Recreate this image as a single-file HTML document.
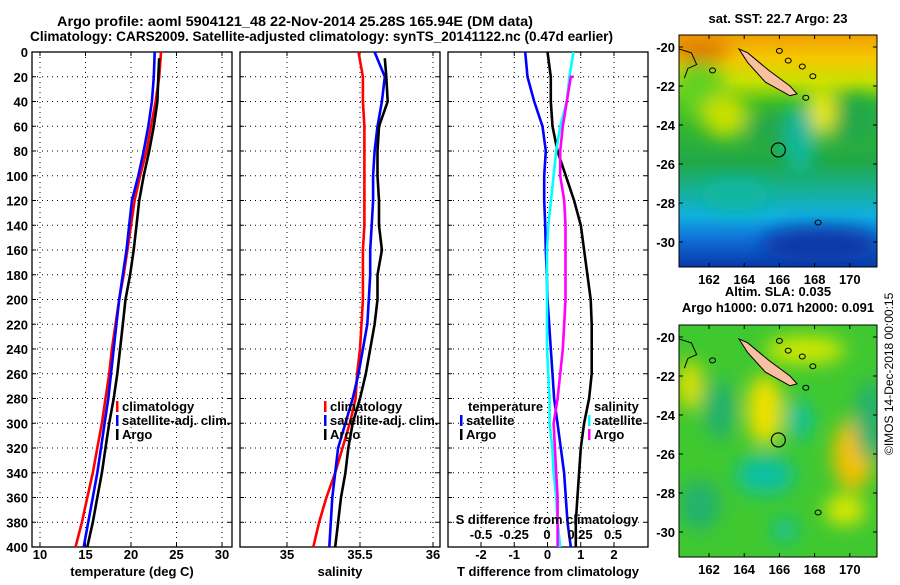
<!DOCTYPE html>
<html><head><meta charset="utf-8"><style>
body{margin:0;background:#fff;}
svg text{font-family:"Liberation Sans",sans-serif;font-weight:bold;font-size:13px;fill:#000;}
</style></head><body>
<svg id="fig" width="900" height="580" xmlns="http://www.w3.org/2000/svg">
<defs>
<filter id="bl" x="-50%" y="-50%" width="200%" height="200%"><feGaussianBlur stdDeviation="9"/></filter>
<clipPath id="c1"><rect x="679" y="35" width="198" height="232"/></clipPath>
<clipPath id="c2"><rect x="679" y="325" width="198" height="232"/></clipPath>
<linearGradient id="sst" x1="0" y1="0" x2="0" y2="1">
<stop offset="0" stop-color="#f0a000"/><stop offset="0.1" stop-color="#f5c800"/><stop offset="0.2" stop-color="#c8e000"/><stop offset="0.3" stop-color="#40c020"/><stop offset="0.55" stop-color="#20a848"/><stop offset="0.66" stop-color="#18b090"/><stop offset="0.78" stop-color="#10b0e0"/><stop offset="0.88" stop-color="#1070d8"/><stop offset="1" stop-color="#0838a8"/>
</linearGradient>
</defs>
<text x="57" y="26" textLength="476" lengthAdjust="spacingAndGlyphs" style="font-size:14px">Argo profile: aoml 5904121_48 22-Nov-2014 25.28S 165.94E (DM data)</text>
<text x="30" y="41" textLength="583" lengthAdjust="spacingAndGlyphs" style="font-size:14px">Climatology: CARS2009. Satellite-adjusted climatology: synTS_20141122.nc (0.47d earlier)</text>
<g id="panels"></g>
<g id="maps">
<g clip-path="url(#c1)">
<rect x="679" y="35" width="198" height="232" fill="url(#sst)"/>
<g filter="url(#bl)">
<ellipse cx="700" cy="90" rx="25" ry="30" fill="#60d020"/>
<ellipse cx="725" cy="115" rx="22" ry="22" fill="#c8e000"/>
<ellipse cx="780" cy="130" rx="35" ry="20" fill="#20a848"/>
<ellipse cx="855" cy="120" rx="30" ry="25" fill="#20a848"/>
<ellipse cx="822" cy="110" rx="14" ry="25" fill="#e8e800"/>
<ellipse cx="735" cy="195" rx="35" ry="15" fill="#10b8a0"/>
<ellipse cx="800" cy="140" rx="15" ry="35" fill="#10b8a0"/>
<ellipse cx="700" cy="50" rx="30" ry="12" fill="#e07800"/>
<ellipse cx="820" cy="245" rx="60" ry="18" fill="#0838a8"/>
</g>
</g>
<g clip-path="url(#c2)">
<rect x="679" y="325" width="198" height="232" fill="#40c830"/>
<g filter="url(#bl)">
<ellipse cx="765" cy="410" rx="18" ry="35" fill="#f0e000"/>
<ellipse cx="853" cy="455" rx="20" ry="35" fill="#f5c000"/>
<ellipse cx="805" cy="350" rx="40" ry="14" fill="#d0e800"/>
<ellipse cx="690" cy="385" rx="12" ry="25" fill="#e8e000"/>
<ellipse cx="765" cy="475" rx="30" ry="20" fill="#10c0a0"/>
<ellipse cx="800" cy="420" rx="12" ry="20" fill="#10c0a0"/>
<ellipse cx="720" cy="410" rx="15" ry="30" fill="#20b070"/>
<ellipse cx="870" cy="420" rx="15" ry="40" fill="#20b070"/>
<ellipse cx="785" cy="530" rx="12" ry="12" fill="#10c0a0"/>
<ellipse cx="700" cy="505" rx="20" ry="25" fill="#20b070"/>
<ellipse cx="845" cy="510" rx="20" ry="15" fill="#e0e800"/>
</g>
</g>
</g>
<text transform="translate(893,455) rotate(-90)" style="font-weight:normal;font-size:12px">©IMOS 14-Dec-2018 00:00:15</text>
</svg>
<script>
// ---- profile data (depth in m) ----
const depths = [0,20,40,60,80,100,120,140,160,180,200,220,240,260,280,300,320,340,360,380,400];
const tempClim = [23.3,23.1,22.7,22.2,21.7,21.0,20.4,20.0,19.6,19.2,18.7,18.3,17.9,17.6,17.2,16.8,16.3,15.8,15.2,14.6,13.9];
const tempSat = [22.6,22.5,22.3,21.9,21.4,20.8,20.1,19.8,19.5,19.1,18.7,18.4,18.1,17.8,17.5,17.1,16.7,16.3,15.8,15.3,14.8];
const tempArgo = [23.1,23.0,22.9,22.5,22.0,21.4,20.9,20.6,20.3,19.9,19.4,19.1,18.8,18.5,18.1,17.6,17.2,16.8,16.3,15.8,15.2];
const salClim = [35.49,35.52,35.52,35.53,35.53,35.53,35.53,35.53,35.52,35.52,35.52,35.51,35.50,35.48,35.47,35.43,35.38,35.33,35.27,35.22,35.18];
const salSat = [35.60,35.67,35.65,35.62,35.60,35.59,35.59,35.58,35.57,35.57,35.56,35.55,35.52,35.49,35.45,35.40,35.35,35.33,35.31,35.30,35.29];
const salArgo = [35.67,35.68,35.69,35.63,35.62,35.62,35.63,35.63,35.65,35.62,35.62,35.60,35.57,35.54,35.50,35.45,35.42,35.40,35.37,35.35,35.33];
const tDiffSat = [-0.67,-0.6,-0.4,-0.15,-0.05,-0.1,-0.1,-0.07,-0.05,-0.02,0.0,0.05,0.1,0.15,0.2,0.3,0.4,0.5,0.55,0.6,0.7];
const tDiffArgo = [0.0,0.1,0.1,0.15,0.3,0.55,0.8,1.0,1.1,1.2,1.3,1.33,1.33,1.33,1.25,1.1,1.0,0.95,0.9,0.85,0.85];
const sDiffSat = [0.2,0.17,0.15,0.1,0.07,0.05,0.03,0.01,0.0,0.0,0.0,0.0,0.0,0.01,0.02,0.02,0.04,0.05,0.07,0.08,0.1];
const sDiffArgo = [0.2,0.18,0.15,0.12,0.1,0.1,0.13,0.14,0.14,0.14,0.14,0.13,0.12,0.1,0.08,0.05,0.06,0.07,0.08,0.08,0.08];
const depthTicks = [0,20,40,60,80,100,120,140,160,180,200,220,240,260,280,300,320,340,360,380,400];
const tempTicks = [10,15,20,25,30];
const salTicks = [35,35.5,36];
const tdTicks = [-2,-1,0,1,2];
const sdTicks = [-0.5,-0.25,0,0.25,0.5];
const sdTickLabels = ['-0.5','-0.25','0','0.25','0.5'];
const latTicks = [-20,-22,-24,-26,-28,-30];
const lonTicks = [162,164,166,168,170];
const argoLon = 165.94, argoLat = -25.28;

const NS='http://www.w3.org/2000/svg';
const root=document.getElementById('panels');
function mk(tag,attrs,parent,text){const e=document.createElementNS(NS,tag);for(const k in attrs)e.setAttribute(k,attrs[k]);if(text!==undefined)e.textContent=text;(parent||root).appendChild(e);return e;}
const Y0=52,Y1=547;
function yD(d){return Y0+(d/400)*(Y1-Y0);}
function lin(d0,d1,r0,r1){return v=>r0+(v-d0)/(d1-d0)*(r1-r0);}

const panels=[
 {x0:32,x1:232,name:'temperature-panel',sc:lin(10,30,40,222),ticks:tempTicks,labels:tempTicks.map(String),xlabel:'temperature (deg C)'},
 {x0:240,x1:440,name:'salinity-panel',sc:lin(35,36,287,433),ticks:salTicks,labels:['35','35.5','36'],xlabel:'salinity'},
 {x0:448,x1:648,name:'difference-panel',sc:lin(-2,2,481,614),ticks:tdTicks,labels:tdTicks.map(String),xlabel:'T difference from climatology'}
];
panels.forEach((p,i)=>{
 const g=mk('g',{});
 
 
 mk('rect',{x:p.x0,y:Y0,width:p.x1-p.x0,height:Y1-Y0,fill:'#fff',stroke:'#000','stroke-width':1.3},g);
 depthTicks.forEach(d=>{
  const y=yD(d);
  if(d>0&&d<400){const l=mk('line',{x1:p.x0,x2:p.x1,y1:y,y2:y,stroke:'#000','stroke-width':1,'stroke-dasharray':'1 4'},g);}
  mk('line',{x1:p.x0,x2:p.x0+4,y1:y,y2:y,stroke:'#000'},g);
  mk('line',{x1:p.x1-4,x2:p.x1,y1:y,y2:y,stroke:'#000'},g);
  if(i===0){const t=mk('text',{x:28,y:y+5,'text-anchor':'end'},g,String(d));}
 });
 p.ticks.forEach((v,k)=>{
  const x=p.sc(v);
  const l=mk('line',{x1:x,x2:x,y1:Y0,y2:Y1,stroke:'#000','stroke-dasharray':'1 4'},g);
  
  
  mk('line',{x1:x,x2:x,y1:Y1,y2:Y1-4,stroke:'#000'},g);
  mk('line',{x1:x,x2:x,y1:Y0,y2:Y0+4,stroke:'#000'},g);
  const t=mk('text',{x:x,y:559,'text-anchor':'middle'},g,p.labels[k]);
  
  
 });
 const xl=mk('text',{x:(p.x0+p.x1)/2,y:576,'text-anchor':'middle'},g,p.xlabel);
 
 
 p.g=g;
});
function series(g,sc,vals,col,name,start){
 let pts=[];
 vals.forEach((v,k)=>{const d=(k===0&&start)?start:depths[k];pts.push(sc(v).toFixed(1)+','+yD(d).toFixed(1));});
 const pl=mk('polyline',{points:pts.join(' '),fill:'none',stroke:col,'stroke-width':2.6,'stroke-linejoin':'round'},g);
 
 
}
series(panels[0].g,panels[0].sc,tempClim,'#f00','temp-climatology-line');
series(panels[0].g,panels[0].sc,tempSat,'#00f','temp-satellite-line');
series(panels[0].g,panels[0].sc,tempArgo,'#000','temp-argo-line',5);
series(panels[1].g,panels[1].sc,salClim,'#f00','sal-climatology-line');
series(panels[1].g,panels[1].sc,salSat,'#00f','sal-satellite-line');
series(panels[1].g,panels[1].sc,salArgo,'#000','sal-argo-line',5);
const sdSc=lin(-0.5,0.5,481,613);
series(panels[2].g,panels[2].sc,tDiffSat,'#00f','tdiff-satellite-line');
series(panels[2].g,panels[2].sc,tDiffArgo,'#000','tdiff-argo-line');
series(panels[2].g,sdSc,sDiffSat,'#0ff','sdiff-satellite-line');
series(panels[2].g,sdSc,sDiffArgo,'#f0f','sdiff-argo-line',20);
sdTicks.forEach((v,k)=>{
 const t=mk('text',{x:sdSc(v),y:539,'text-anchor':'middle'},panels[2].g,sdTickLabels[k]);
 
 
});
const sdt=mk('text',{x:547,y:524,'text-anchor':'middle'},panels[2].g,'S difference from climatology');


function legend(g,x,y,col,label){
 const lg=mk('g',{},g);
 
 
 if(col)mk('rect',{x:x,y:y-10,width:2.5,height:11,fill:col},lg);
 mk('text',{x:x+6,y:y},lg,label);
}
[[panels[0].g,116],[panels[1].g,324]].forEach(([g,x])=>{
 legend(g,x,411,'#f00','climatology');legend(g,x,425,'#00f','satellite-adj. clim.');legend(g,x,439,'#000','Argo');
});
legend(panels[2].g,462,411,null,'temperature');
legend(panels[2].g,460,425,'#00f','satellite');
legend(panels[2].g,460,439,'#000','Argo');
legend(panels[2].g,588,411,null,'salinity');
legend(panels[2].g,588,425,'#0ff','satellite');
legend(panels[2].g,588,439,'#f0f','Argo');

const mroot=document.getElementById('maps');
function mapAxes(top,lat0y,title1,title2,name){
 const g=mk('g',{},mroot);
 
 
 const lonX=v=>709+(v-162)*17.6, latY=v=>lat0y+(-20-v)*19.5;
 mk('path',{d:`M${lonX(163.7)},${latY(-20.1)} L${lonX(164.2)},${latY(-20.3)} L${lonX(165.4)},${latY(-21.2)} L${lonX(166.6)},${latY(-22.0)} L${lonX(167.0)},${latY(-22.4)} L${lonX(166.6)},${latY(-22.5)} L${lonX(165.2)},${latY(-21.8)} L${lonX(164.2)},${latY(-20.8)} Z`,fill:'#f8c0a0',stroke:'#000'},g);
 // small islands / coastlines
 mk('path',{d:`M679,${latY(-20.1)} L${lonX(161)},${latY(-20.3)} L${lonX(161.3)},${latY(-20.9)} L${lonX(160.8)},${latY(-21.1)} L${lonX(160.6)},${latY(-21.6)}`,fill:'none',stroke:'#000'},g);
 [[162.2,-21.2],[166,-20.2],[166.5,-20.7],[167.3,-21.0],[167.9,-21.5],[168.2,-29.0],[167.5,-22.6]].forEach(([lo,la])=>mk('ellipse',{cx:lonX(lo),cy:latY(la),rx:3,ry:2.5,fill:'none',stroke:'#000'},g));
 const c=mk('circle',{cx:lonX(argoLon),cy:latY(argoLat),r:7,fill:'none',stroke:'#000','stroke-width':1.2},g);
 
 
 mk('rect',{x:679,y:top,width:198,height:232,fill:'none',stroke:'#000'},g);
 latTicks.forEach(v=>{const y=latY(v);mk('line',{x1:679,x2:683,y1:y,y2:y,stroke:'#000'},g);mk('line',{x1:873,x2:877,y1:y,y2:y,stroke:'#000'},g);
  const t=mk('text',{x:675,y:y+5,'text-anchor':'end'},g,String(v));});
 lonTicks.forEach(v=>{const x=lonX(v);mk('line',{x1:x,x2:x,y1:top,y2:top+4,stroke:'#000'},g);mk('line',{x1:x,x2:x,y1:top+232,y2:top+228,stroke:'#000'},g);
  const t=mk('text',{x:x,y:top+249,'text-anchor':'middle'},g,String(v));});
 const t1=mk('text',{x:778,y:title2?top-29:top-12,'text-anchor':'middle'},g,title1);
 
 
 if(title2){const t2=mk('text',{x:778,y:top-13,'text-anchor':'middle'},g,title2);}
}
mapAxes(35,47,'sat. SST: 22.7 Argo: 23',null,'sst-map');
mapAxes(325,337,'Altim. SLA: 0.035','Argo h1000: 0.071 h2000: 0.091','sla-map');
</script>
</body></html>
